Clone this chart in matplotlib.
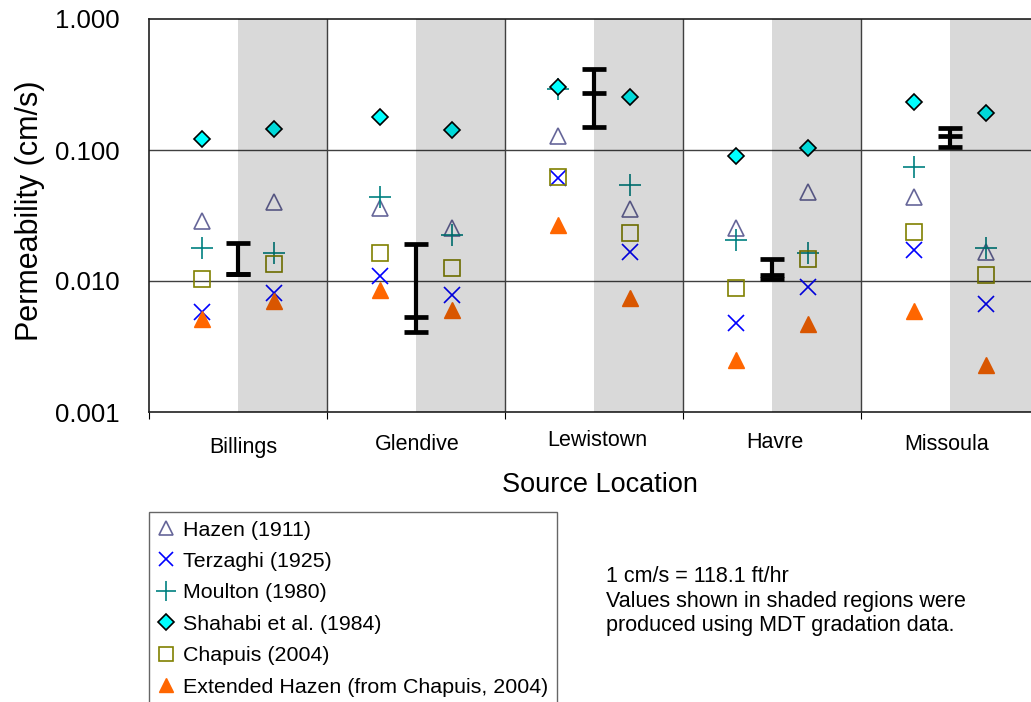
import matplotlib

matplotlib.use("Agg")
import matplotlib.pyplot as plt
from matplotlib.lines import Line2D

plt.rcParams["font.family"] = ["Liberation Sans", "DejaVu Sans"]

# Source locations and positions of the two estimates per location
locations = ["Billings", "Glendive", "Lewistown", "Havre", "Missoula"]
x_left = [0.6, 2.6, 4.6, 6.6, 8.6]
x_right = [1.4, 3.4, 5.4, 7.4, 9.4]
x_range = [1.0, 3.0, 5.0, 7.0, 9.0]

# Permeability (cm/s), left = project gradation, right = MDT gradation
hazen_l = [0.0289, 0.0359, 0.129, 0.0252, 0.0435]
hazen_r = [0.0399, 0.0252, 0.0355, 0.0481, 0.0167]
terzaghi_l = [0.00583, 0.0109, 0.0608, 0.00475, 0.0172]
terzaghi_r = [0.00805, 0.00778, 0.0167, 0.00895, 0.00667]
moulton_l = [0.0178, 0.044, 0.290, 0.0206, 0.0746]
moulton_r = [0.0163, 0.0223, 0.054, 0.0163, 0.0180]
shahabi_l = [0.121, 0.178, 0.301, 0.0895, 0.234]
shahabi_r = [0.144, 0.143, 0.252, 0.104, 0.193]
chapuis_l = [0.0103, 0.0164, 0.0626, 0.0088, 0.0235]
chapuis_r = [0.0134, 0.0125, 0.0231, 0.0146, 0.0111]
ext_hazen_l = [0.0051, 0.0085, 0.0268, 0.00249, 0.0059]
ext_hazen_r = [0.0070, 0.0060, 0.00746, 0.00467, 0.00227]

# measured range (low, mid, high)
range_lo = [0.01125, 0.0041, 0.150, 0.0104, 0.105]
range_mid = [0.01125, 0.00534, 0.274, 0.0112, 0.127]
range_hi = [0.0196, 0.0191, 0.413, 0.0146, 0.148]

# small hand placement of the location labels (pixels)
label_dx = [5, 1, 3, 3, -3]
label_y = [448, 445, 441, 442, 444]

series = [
    ("Hazen (1911)", hazen_l, hazen_r,
     dict(marker="^", mfc="none", mec="#666699", ms=11, mew=1.2)),
    ("Terzaghi (1925)", terzaghi_l, terzaghi_r,
     dict(marker="x", color="#0000FF", ms=11, mew=1.2)),
    ("Moulton (1980)", moulton_l, moulton_r,
     dict(marker="+", color="#008080", ms=16, mew=1.2)),
    ("Shahabi et al. (1984)", shahabi_l, shahabi_r,
     dict(marker="D", mfc="#00FFFF", mec="black", ms=8.5, mew=1.2)),
    ("Chapuis (2004)", chapuis_l, chapuis_r,
     dict(marker="s", mfc="none", mec="#808000", ms=11, mew=1.2)),
    ("Extended Hazen (from Chapuis, 2004)", ext_hazen_l, ext_hazen_r,
     dict(marker="^", mfc="#FF6600", mec="#FF6600", ms=11, mew=1)),
]

W, H = 1031, 702
fig = plt.figure(figsize=(W / 100, H / 100), dpi=100)
ax_l, ax_b, ax_w, ax_h = 149, 412, 890, 393
ax = fig.add_axes([ax_l / W, (H - ax_b) / H, ax_w / W, ax_h / H])

handles = []
for name, left, right, style in series:
    ax.plot(x_left, left, linestyle="none", zorder=3, **style)
    ax.plot(x_right, right, linestyle="none", zorder=3, **style)
    handles.append(Line2D([], [], linestyle="none", label=name, **style))

# shaded regions (MDT data), drawn on top as a translucent overlay
for i in range(len(locations)):
    ax.axvspan(2 * i + 1, 2 * i + 2, color="black", alpha=0.15, lw=0, zorder=4)

# measured ranges
for x, lo, mid, hi in zip(x_range, range_lo, range_mid, range_hi):
    ax.plot([x, x], [lo, hi], color="black", lw=3, zorder=5, solid_capstyle="butt")
    for v in (lo, mid, hi):
        ax.plot([x - 0.13, x + 0.13], [v, v], color="black", lw=3.4, zorder=5,
                solid_capstyle="butt")

ax.set_yscale("log")
ax.set_ylim(0.001, 1.0)
ax.set_xlim(0, 10)
ax.set_yticks([0.001, 0.01, 0.1, 1.0])
ax.set_yticklabels(["0.001", "0.010", "0.100", "1.000"])
ax.yaxis.set_minor_locator(matplotlib.ticker.NullLocator())
ax.tick_params(axis="y", which="major", length=0, labelsize=18.5, pad=21)

ax.set_xticks([0, 2, 4, 6, 8, 10])
ax.set_xticklabels([])
ax.tick_params(axis="x", which="major", direction="out", length=5)

for name, xc, dx, yp in zip(locations, x_range, label_dx, label_y):
    ax.text(xc + dx * 10 / ax_w, (ax_b - yp) / ax_h, name, fontsize=15.5,
            ha="center", va="center", transform=ax.get_xaxis_transform())

for yv in (0.01, 0.1):
    ax.axhline(yv, color="#404040", lw=1, zorder=2)
for xv in (2, 4, 6, 8):
    ax.axvline(xv, color="#404040", lw=1, zorder=2)

for sp in ax.spines.values():
    sp.set_color("#202020")
    sp.set_linewidth(1.2)

ax.set_ylabel("Permeability (cm/s)", fontsize=22, va="center")
ax.yaxis.set_label_coords(-(ax_l - 30) / ax_w, 0.5 + (215 - 210) / ax_h)
ax.set_xlabel("Source Location", fontsize=19.5, va="center")
ax.xaxis.set_label_coords((600 - ax_l) / ax_w, (ax_b - 485) / ax_h)

leg = fig.legend(handles=handles, loc="upper left",
                 bbox_to_anchor=(149 / W, 1 - 512 / H),
                 fontsize=15.4, frameon=True, fancybox=False, edgecolor="#404040",
                 handlelength=0.8, handletextpad=0.4, labelspacing=0.58,
                 borderpad=0.4, borderaxespad=0, markerscale=0.9)
leg.get_frame().set_linewidth(1)

fig.text(606 / W, 1 - 566 / H,
         "1 cm/s = 118.1 ft/hr\nValues shown in shaded regions were\n"
         "produced using MDT gradation data.",
         fontsize=15.5, va="top", ha="left", linespacing=1.22)

fig.savefig("out.png", dpi=100)
